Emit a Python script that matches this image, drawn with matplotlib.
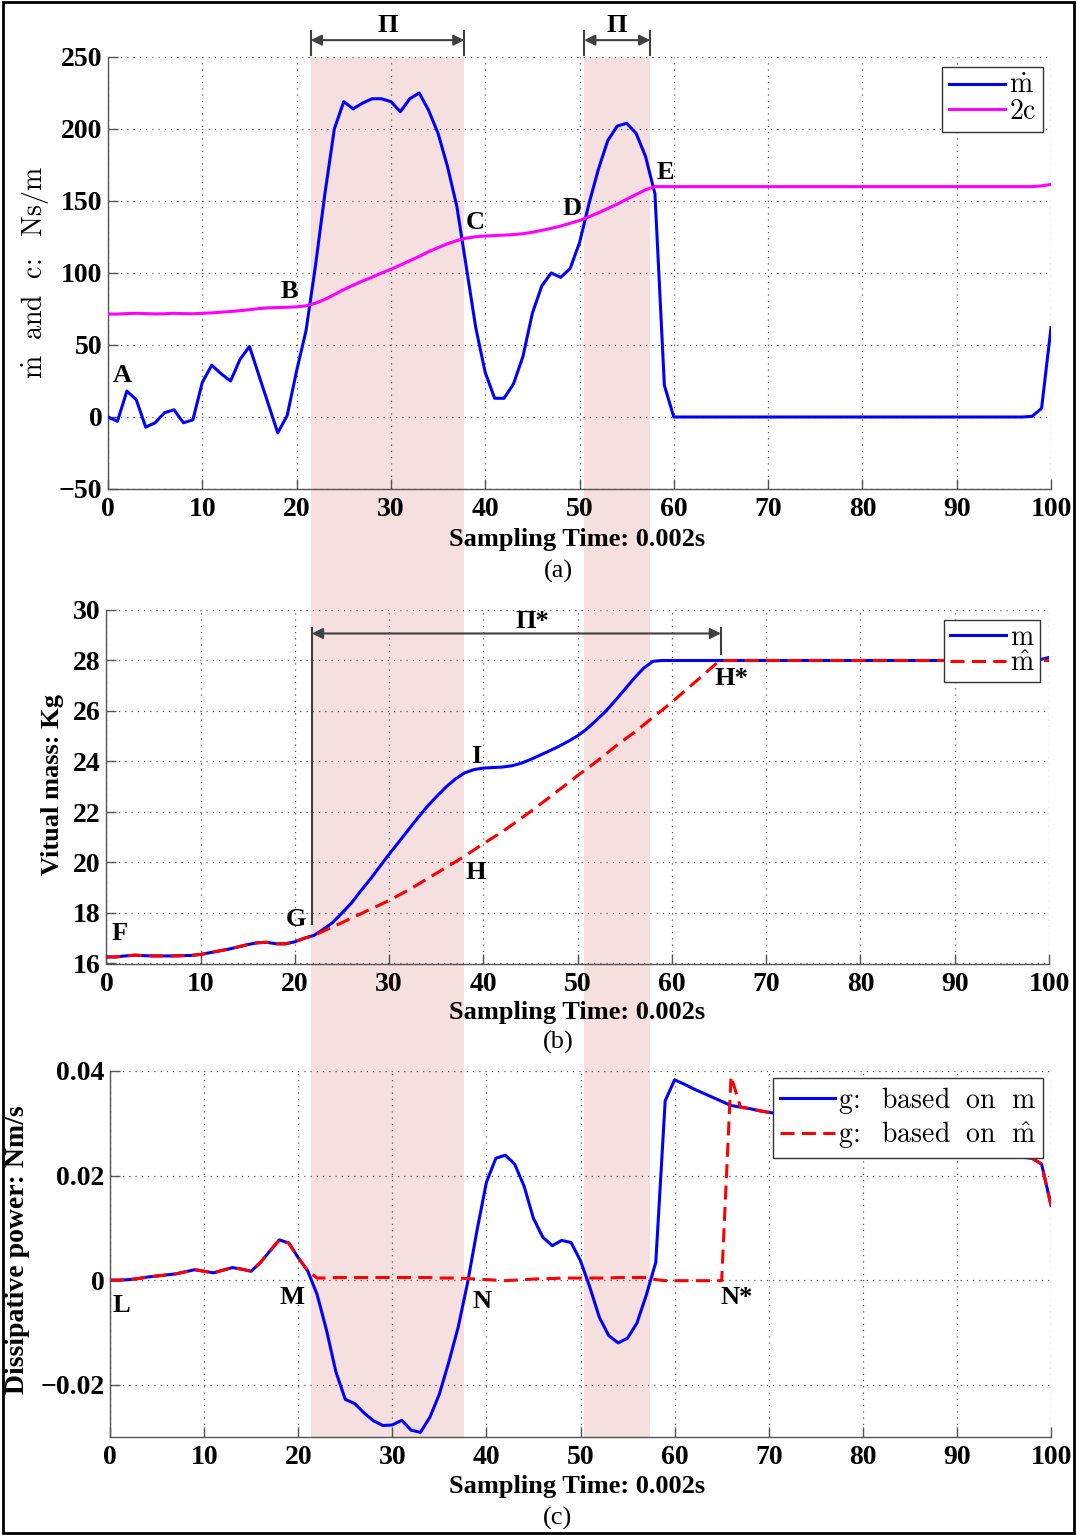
import numpy as np
import matplotlib
matplotlib.use("Agg")
import matplotlib.pyplot as plt
from matplotlib.patches import Rectangle
from matplotlib.transforms import blended_transform_factory

plt.rcParams['mathtext.fontset'] = 'cm'
plt.rcParams['font.family'] = ['Liberation Serif', 'DejaVu Serif']
plt.rcParams['font.weight'] = 'bold'
plt.rcParams['axes.labelweight'] = 'bold'

# sample index (0.002 s each)
samples = np.arange(0, 101)

# (a) mass rate and 2c
mdot = [0, -3, 18, 12, -7, -4, 3, 5, -4, -2,
        24, 36, 30, 25, 40, 49, 29, 9, -11, 1,
        32, 60, 105, 155, 200, 219, 214, 218, 221, 221,
        219, 212, 221, 225, 213, 197, 174, 146, 104, 62,
        31, 13, 13, 23, 42, 72, 91, 100, 97, 103,
        121, 148, 172, 192, 202, 204, 197, 181, 155, 22,
        0, 0, 0, 0, 0, 0, 0, 0, 0, 0,
        0, 0, 0, 0, 0, 0, 0, 0, 0, 0,
        0, 0, 0, 0, 0, 0, 0, 0, 0, 0,
        0, 0, 0, 0, 0, 0, 0, 0, 0.5, 6,
        62]
c2 = [71.5, 71.5, 71.8, 72.0, 71.8, 71.6, 71.7, 72.0, 71.8, 71.7,
      72.0, 72.3, 72.8, 73.3, 73.8, 74.5, 75.3, 75.8, 76.0, 76.2,
      76.5, 77.2, 79.0, 81.7, 85.0, 88.5, 91.5, 94.5, 97.0, 100.0,
      102.5, 105.5, 108.5, 111.5, 114.8, 117.6, 120.3, 122.5, 124.2, 125.2,
      125.7, 126.0, 126.3, 126.7, 127.3, 128.3, 129.6, 131.0, 132.6, 134.5,
      136.5, 139.0, 141.8, 144.8, 147.8, 151.2, 154.5, 157.8, 160.0, 160.0,
      160.0, 160.0, 160.0, 160.0, 160.0, 160.0, 160.0, 160.0, 160.0, 160.0,
      160.0, 160.0, 160.0, 160.0, 160.0, 160.0, 160.0, 160.0, 160.0, 160.0,
      160.0, 160.0, 160.0, 160.0, 160.0, 160.0, 160.0, 160.0, 160.0, 160.0,
      160.0, 160.0, 160.0, 160.0, 160.0, 160.0, 160.0, 160.0, 160.0, 160.5,
      161.5]

# (b) virtual mass m and estimate m_hat
m = [16.26, 16.26, 16.30, 16.33, 16.31, 16.30, 16.30, 16.30, 16.31, 16.32,
     16.36, 16.43, 16.50, 16.57, 16.66, 16.75, 16.82, 16.84, 16.78, 16.78,
     16.86, 17.00, 17.11, 17.35, 17.62, 18.00, 18.40, 18.88, 19.34, 19.84,
     20.33, 20.80, 21.28, 21.75, 22.20, 22.60, 22.98, 23.30, 23.55, 23.68,
     23.74, 23.76, 23.78, 23.83, 23.93, 24.08, 24.25, 24.42, 24.60, 24.80,
     25.02, 25.30, 25.64, 26.00, 26.42, 26.86, 27.30, 27.70, 27.97, 28.00,
     28.00, 28.00, 28.00, 28.00, 28.00, 28.00, 28.00, 28.00, 28.00, 28.00,
     28.00, 28.00, 28.00, 28.00, 28.00, 28.00, 28.00, 28.00, 28.00, 28.00,
     28.00, 28.00, 28.00, 28.00, 28.00, 28.00, 28.00, 28.00, 28.00, 28.00,
     28.00, 28.00, 28.00, 28.00, 28.00, 28.00, 28.00, 28.00, 28.00, 28.03,
     28.12]
m_hat = m[:22] + [
     17.11, 17.28, 17.45, 17.62, 17.80, 17.97, 18.15, 18.32,
     18.50, 18.70, 18.90, 19.12, 19.35, 19.57, 19.80, 20.02, 20.25, 20.50,
     20.75, 20.98, 21.22, 21.48, 21.75, 22.02, 22.30, 22.58, 22.87, 23.15,
     23.45, 23.72, 24.00, 24.30, 24.60, 24.88, 25.15, 25.45, 25.75, 26.05,
     26.35, 26.68, 27.00, 27.32, 27.65, 27.98] + m[66:99] + [28.00, 28.00]

# (c) dissipative power
g_m = [0.0000, 0.0000, 0.0001, 0.0003, 0.0006, 0.0008, 0.0010, 0.0012, 0.0016, 0.0020,
       0.0017, 0.0014, 0.0019, 0.0024, 0.0021, 0.0017, 0.0034, 0.0056, 0.0077, 0.0071,
       0.0043, 0.0018, -0.0027, -0.0095, -0.0175, -0.0228, -0.0236, -0.0254, -0.0269, -0.0278,
       -0.0277, -0.0268, -0.0287, -0.0291, -0.0262, -0.0218, -0.0157, -0.0090, -0.0005, 0.0095,
       0.0187, 0.0233, 0.0239, 0.0222, 0.0180, 0.0118, 0.0082, 0.0066, 0.0076, 0.0072,
       0.0037, -0.0014, -0.0071, -0.0106, -0.0120, -0.0111, -0.0082, -0.0028, 0.0034, 0.0343,
       0.0383, 0.0375, 0.0366, 0.0358, 0.0350, 0.0342, 0.0334, 0.0331, 0.0328, 0.0324,
       0.0321, 0.0318, 0.0315, 0.0311, 0.0308, 0.0305, 0.0301, 0.0298, 0.0295, 0.0292,
       0.0288, 0.0285, 0.0282, 0.0278, 0.0275, 0.0272, 0.0268, 0.0265, 0.0262, 0.0258,
       0.0255, 0.0251, 0.0247, 0.0243, 0.0240, 0.0238, 0.0236, 0.0235, 0.0233, 0.0222,
       0.0143]
g_mhat = g_m[:22] + [
       0.0004, 0.0004, 0.0005, 0.0005, 0.0005, 0.0005, 0.0005, 0.0005,
       0.0005, 0.0005, 0.0005, 0.0005, 0.0005, 0.0004, 0.0004, 0.0004, 0.0003, 0.0002,
       0.0001, 0.0000, -0.0001, 0.0000, 0.0001, 0.0002, 0.0003, 0.0003, 0.0004, 0.0004,
       0.0004, 0.0004, 0.0004, 0.0004, 0.0005, 0.0005, 0.0005, 0.0005, 0.0001, -0.0001,
       -0.0001, -0.0001, -0.0001, -0.0001, -0.0001, -0.0001, 0.0390] + g_m[67:]

# shaded phases (sample index)
band_start = [21.5, 50.5]
band_end = [37.8, 57.5]
pi_star = (21.8, 65.2)

W, H = 1077, 1535
fig = plt.figure(figsize=(W / 100, H / 100), dpi=100)


def rect(l, r, t, b):
    return [l / W, 1 - b / H, (r - l) / W, (b - t) / H]


ax1 = fig.add_axes(rect(108, 1051, 57, 489))
ax2 = fig.add_axes(rect(106.4, 1049, 610, 963.5))
ax3 = fig.add_axes(rect(110, 1051, 1071, 1437))

BLUE, MAG, RED = '#0000ff', '#ff00ff', '#ff0000'
LW = 2.2
DASH = (4.6, 2.4)
TXT = 19
TICK = 20
GREY = '#404040'

for ax in (ax1, ax2, ax3):
    ax.set_facecolor('none')
    ax.set_xlim(0, 100)
    ax.set_xticks(np.arange(0, 101, 10))
    for s in ('top', 'right'):
        ax.spines[s].set_visible(False)
    for s in ('left', 'bottom'):
        ax.spines[s].set_color('#555555')
        ax.spines[s].set_linewidth(1.0)
    ax.tick_params(direction='in', length=7, width=1, color='#555555',
                   labelsize=TICK, pad=6)
    ax.tick_params(axis='y', pad=4)
    ax.grid(True, linestyle=(0, (1, 4)), color='#555555', lw=0.9)
    ax.set_axisbelow(False)

# shaded bands spanning all panels
bt = blended_transform_factory(ax1.transData, fig.transFigure)
for x0, x1 in zip(band_start, band_end):
    fig.add_artist(Rectangle((x0, 1 - 1437 / H), x1 - x0, (1437 - 57) / H,
                             transform=bt, facecolor='#f5dfdf', edgecolor='none',
                             zorder=-5))

leg_kw = dict(loc='upper right', borderaxespad=0, fancybox=False, framealpha=1,
              edgecolor='#333333')

# ---- (a)
ax1.plot(samples, mdot, color=BLUE, lw=LW, label=r'$\dot{\mathrm{m}}$', zorder=3)
ax1.plot(samples, c2, color=MAG, lw=LW, label=r'$\mathrm{2c}$', zorder=3)
ax1.set_ylim(-50, 250)
ax1.set_yticks(np.arange(-50, 251, 50))
ax1.set_ylabel(r'$\dot{\mathrm{m}}\ \ \mathrm{and\ \ c\!:\ \ Ns/m}$', fontsize=20, va='center')
ax1.yaxis.set_label_coords(-0.077, 0.5)
ax1.set_xlabel('Sampling Time: 0.002s', fontsize=TXT, va='center')
ax1.xaxis.set_label_coords(0.497, -0.118)
ax1.legend(bbox_to_anchor=(0.9915, 0.977), fontsize=20, handlelength=2.0,
           handletextpad=0.15, labelspacing=0.0, borderpad=0.25, **leg_kw)
for t, x, y in [('A', 1.5, 28.5), ('B', 19.2, 87.5), ('C', 38.9, 135),
                ('D', 49.2, 145), ('E', 59.1, 169.7)]:
    ax1.text(x, y, t, fontsize=TXT, ha='center', va='center', zorder=5)

tr = blended_transform_factory(ax1.transData, ax1.transAxes)
for x0, x1 in zip(band_start, band_end):
    ax1.annotate('', xy=(x0, 1.039), xytext=(x1, 1.039), xycoords=tr, textcoords=tr,
                 arrowprops=dict(arrowstyle='<|-|>', color=GREY, lw=1.5,
                                 mutation_scale=16, shrinkA=0, shrinkB=0),
                 annotation_clip=False)
    for x in (x0, x1):
        ax1.plot([x, x], [1.005, 1.06], transform=tr, color=GREY, lw=1.5, clip_on=False)
    ax1.text((x0 + x1) / 2, 1.072, 'Π', transform=tr, fontsize=TXT,
             ha='center', va='center')

# ---- (b)
ax2.plot(samples, m, color=BLUE, lw=LW, label=r'$\mathrm{m}$', zorder=3)
ax2.plot(samples, m_hat, color=RED, lw=LW, dashes=DASH, label=r'$\hat{\mathrm{m}}$', zorder=4)
ax2.set_ylim(16, 30)
ax2.set_yticks(np.arange(16, 31, 2))
ax2.set_ylabel('Vitual mass: Kg', fontsize=TXT, va='center')
ax2.yaxis.set_label_coords(-0.0577, 0.505)
ax2.set_xlabel('Sampling Time: 0.002s', fontsize=TXT, va='center')
ax2.xaxis.set_label_coords(0.499, -0.14)
ax2.legend(bbox_to_anchor=(0.9905, 0.972), fontsize=20, handlelength=2.0,
           handletextpad=0.15, labelspacing=0.0, borderpad=0.2, **leg_kw)
for t, x, y in [('F', 1.4, 17.2), ('G', 20.1, 17.74), ('I', 39.2, 24.18),
                ('H', 39.2, 19.6), ('H*', 66.3, 27.3)]:
    ax2.text(x, y, t, fontsize=TXT, ha='center', va='center', zorder=5)
ax2.annotate('', xy=(pi_star[0], 29.07), xytext=(pi_star[1], 29.07),
             arrowprops=dict(arrowstyle='<|-|>', color=GREY, lw=1.5,
                             mutation_scale=16, shrinkA=0, shrinkB=0))
ax2.plot([pi_star[0], pi_star[0]], [29.3, 17.55], color=GREY, lw=1.5, zorder=4)
ax2.plot([pi_star[1], pi_star[1]], [29.3, 28.25], color=GREY, lw=1.5, zorder=4)
ax2.text(45.2, 29.55, 'Π*', fontsize=TXT, ha='center', va='center')

# ---- (c)
ax3.plot(samples, g_m, color=BLUE, lw=LW, label=r'$\mathrm{g\!:\ \ based\ \ on\ \ m}$', zorder=3)
ax3.plot(samples, g_mhat, color=RED, lw=LW, dashes=DASH,
         label=r'$\mathrm{g\!:\ \ based\ \ on\ \ \hat{m}}$', zorder=4)
ax3.set_ylim(-0.03, 0.04)
ax3.set_yticks([-0.02, 0, 0.02, 0.04])
ax3.set_yticklabels(['\u22120.02', '0', '0.02', '0.04'])
ax3.set_ylabel('Dissipative power: Nm/s', fontsize=20, va='center')
ax3.yaxis.set_label_coords(-0.0978, 0.511)
ax3.set_xlabel('Sampling Time: 0.002s', fontsize=TXT, va='center')
ax3.xaxis.set_label_coords(0.496, -0.134)
ax3.legend(bbox_to_anchor=(0.9915, 0.981), fontsize=20, handlelength=2.0,
           handletextpad=0.1, labelspacing=0.1, borderpad=0.25, **leg_kw)
for t, x, y in [('L', 1.2, -0.0049), ('M', 19.3, -0.0034), ('N', 39.5, -0.0041),
                ('N*', 66.6, -0.0034)]:
    ax3.text(x, y, t, fontsize=TXT, ha='center', va='center', zorder=5)

for lab, yp in [('(a)', 571), ('(b)', 1042), ('(c)', 1518)]:
    fig.text(558 / W, 1 - yp / H, lab, fontsize=TXT, fontweight='normal',
             ha='center', va='center')

fig.add_artist(Rectangle((0.0025, 0.0015), 0.995, 0.997, transform=fig.transFigure,
                         fill=False, lw=2, ec='black'))

fig.savefig('out.png', dpi=100)
